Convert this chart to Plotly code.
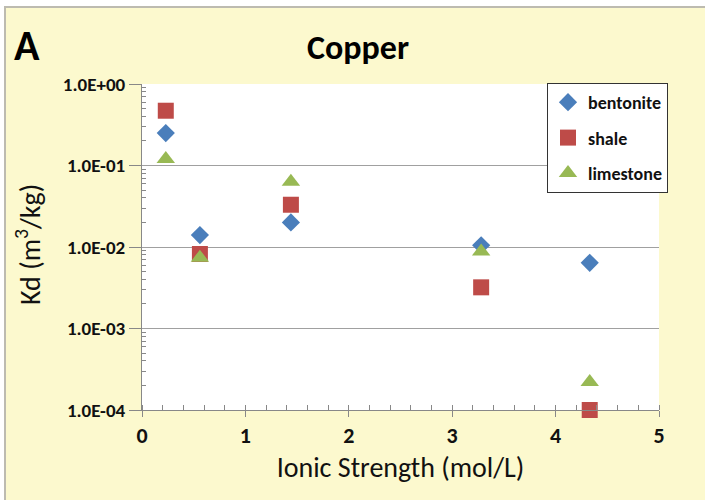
import plotly.graph_objects as go

ionic_strength = [0.23, 0.56, 1.44, 3.28, 4.33]
bentonite = [0.25, 0.014, 0.020, 0.0105, 0.0064]
shale = [0.47, 0.0082, 0.033, 0.0032, 0.0001]
limestone = [0.12, 0.0074, 0.063, 0.0088, 0.00022]
series_names = ["bentonite", "shale", "limestone"]
y_tick_vals = [1e-4, 1e-3, 1e-2, 1e-1, 1]
y_tick_text = ["1.0E-04", "1.0E-03", "1.0E-02", "1.0E-01", "1.0E+00"]
y_minor_vals = [k * 10.0 ** d for d in range(-4, 0) for k in range(2, 10)]

W, H = 705, 500
ML, MR, MT, MB = 142, 46, 84, 90
PW, PH = W - ML - MR, H - MT - MB

FONT = "Carlito, Liberation Sans Narrow, Open Sans, sans-serif"
colors = ["#4A7EBB", "#BE4B48", "#98B954"]
symbols = ["diamond", "square", "triangle-up"]
sizes = [14, 16, 16]

fig = go.Figure()
for i, (name, vals) in enumerate(zip(series_names, [bentonite, shale, limestone])):
    fig.add_trace(go.Scatter(
        x=ionic_strength, y=vals, mode="markers", name=name,
        legendgroup=name,
        marker=dict(symbol=symbols[i], size=sizes[i], color=colors[i]),
        cliponaxis=False,
    ))

def px_to_paper_x(px):
    return (px - ML) / PW

def px_to_paper_y(py):
    return 1 - (py - MT) / PH

shapes = [
    dict(type="rect", xref="paper", yref="paper",
         x0=px_to_paper_x(-5), x1=px_to_paper_x(W + 5),
         y0=px_to_paper_y(7), y1=px_to_paper_y(-5),
         fillcolor="white", line=dict(width=0), layer="below"),
    dict(type="rect", xref="paper", yref="paper",
         x0=px_to_paper_x(-5), x1=px_to_paper_x(4),
         y0=px_to_paper_y(H + 5), y1=px_to_paper_y(-5),
         fillcolor="white", line=dict(width=0), layer="below"),
    dict(type="line", xref="paper", yref="paper",
         x0=px_to_paper_x(4), x1=px_to_paper_x(W + 5),
         y0=px_to_paper_y(7), y1=px_to_paper_y(7),
         line=dict(color="#BDBBB0", width=2)),
    dict(type="line", xref="paper", yref="paper",
         x0=px_to_paper_x(5), x1=px_to_paper_x(5),
         y0=px_to_paper_y(7), y1=px_to_paper_y(H + 5),
         line=dict(color="#BDBBB0", width=2)),
]

fig.update_layout(
    width=W, height=H,
    margin=dict(l=ML, r=MR, t=MT, b=MB),
    paper_bgcolor="#FCF9CE",
    plot_bgcolor="white",
    font=dict(family=FONT, color="#111111"),
    shapes=shapes,
    showlegend=True,
    legend=dict(
        x=px_to_paper_x(547), y=px_to_paper_y(83), xanchor="left", yanchor="top",
        bgcolor="white", bordercolor="#333333", borderwidth=1,
        font=dict(size=18, family=FONT, color="#111111", weight="bold"),
        tracegroupgap=9, traceorder="grouped",
        itemwidth=30,
    ),
    annotations=[
        dict(text="<b>A</b>", xref="paper", yref="paper", x=px_to_paper_x(12), y=px_to_paper_y(45),
             xanchor="left", yanchor="middle", showarrow=False,
             font=dict(size=42, family=FONT, color="#000000")),
        dict(text="<b>Copper</b>", xref="paper", yref="paper", x=px_to_paper_x(358), y=px_to_paper_y(47),
             xanchor="center", yanchor="middle", showarrow=False,
             font=dict(size=34, family=FONT, color="#000000")),
        dict(text="Kd (m<sup>3</sup>/kg)", xref="paper", yref="paper",
             x=px_to_paper_x(28), y=px_to_paper_y(245), textangle=-90,
             xanchor="center", yanchor="middle", showarrow=False,
             font=dict(size=28, family=FONT, color="#111111")),
    ],
    xaxis=dict(
        range=[0, 5], dtick=1, tick0=0,
        showgrid=False, zeroline=False,
        showline=True, linecolor="#888888", linewidth=1,
        ticks="outside", ticklen=6, tickcolor="#888888",
        tickfont=dict(size=22, family=FONT, weight="bold"),
        minor=dict(dtick=0.2, ticks="inside", ticklen=5, tickcolor="#888888", showgrid=False),
        title=dict(text="Ionic Strength (mol/L)", font=dict(size=28, family=FONT), standoff=8),
    ),
    yaxis=dict(
        type="log", range=[-4, 0],
        tickvals=y_tick_vals, ticktext=y_tick_text,
        showgrid=True, gridcolor="#A0A0A0", gridwidth=1,
        zeroline=False,
        showline=True, linecolor="#888888", linewidth=1,
        ticks="outside", ticklen=12, tickcolor="#888888",
        tickfont=dict(size=19, family=FONT, weight="bold"),
        minor=dict(tickvals=y_minor_vals, ticks="inside", ticklen=4, tickcolor="#888888", showgrid=False),
    ),
)

fig.write_html("out.html")
